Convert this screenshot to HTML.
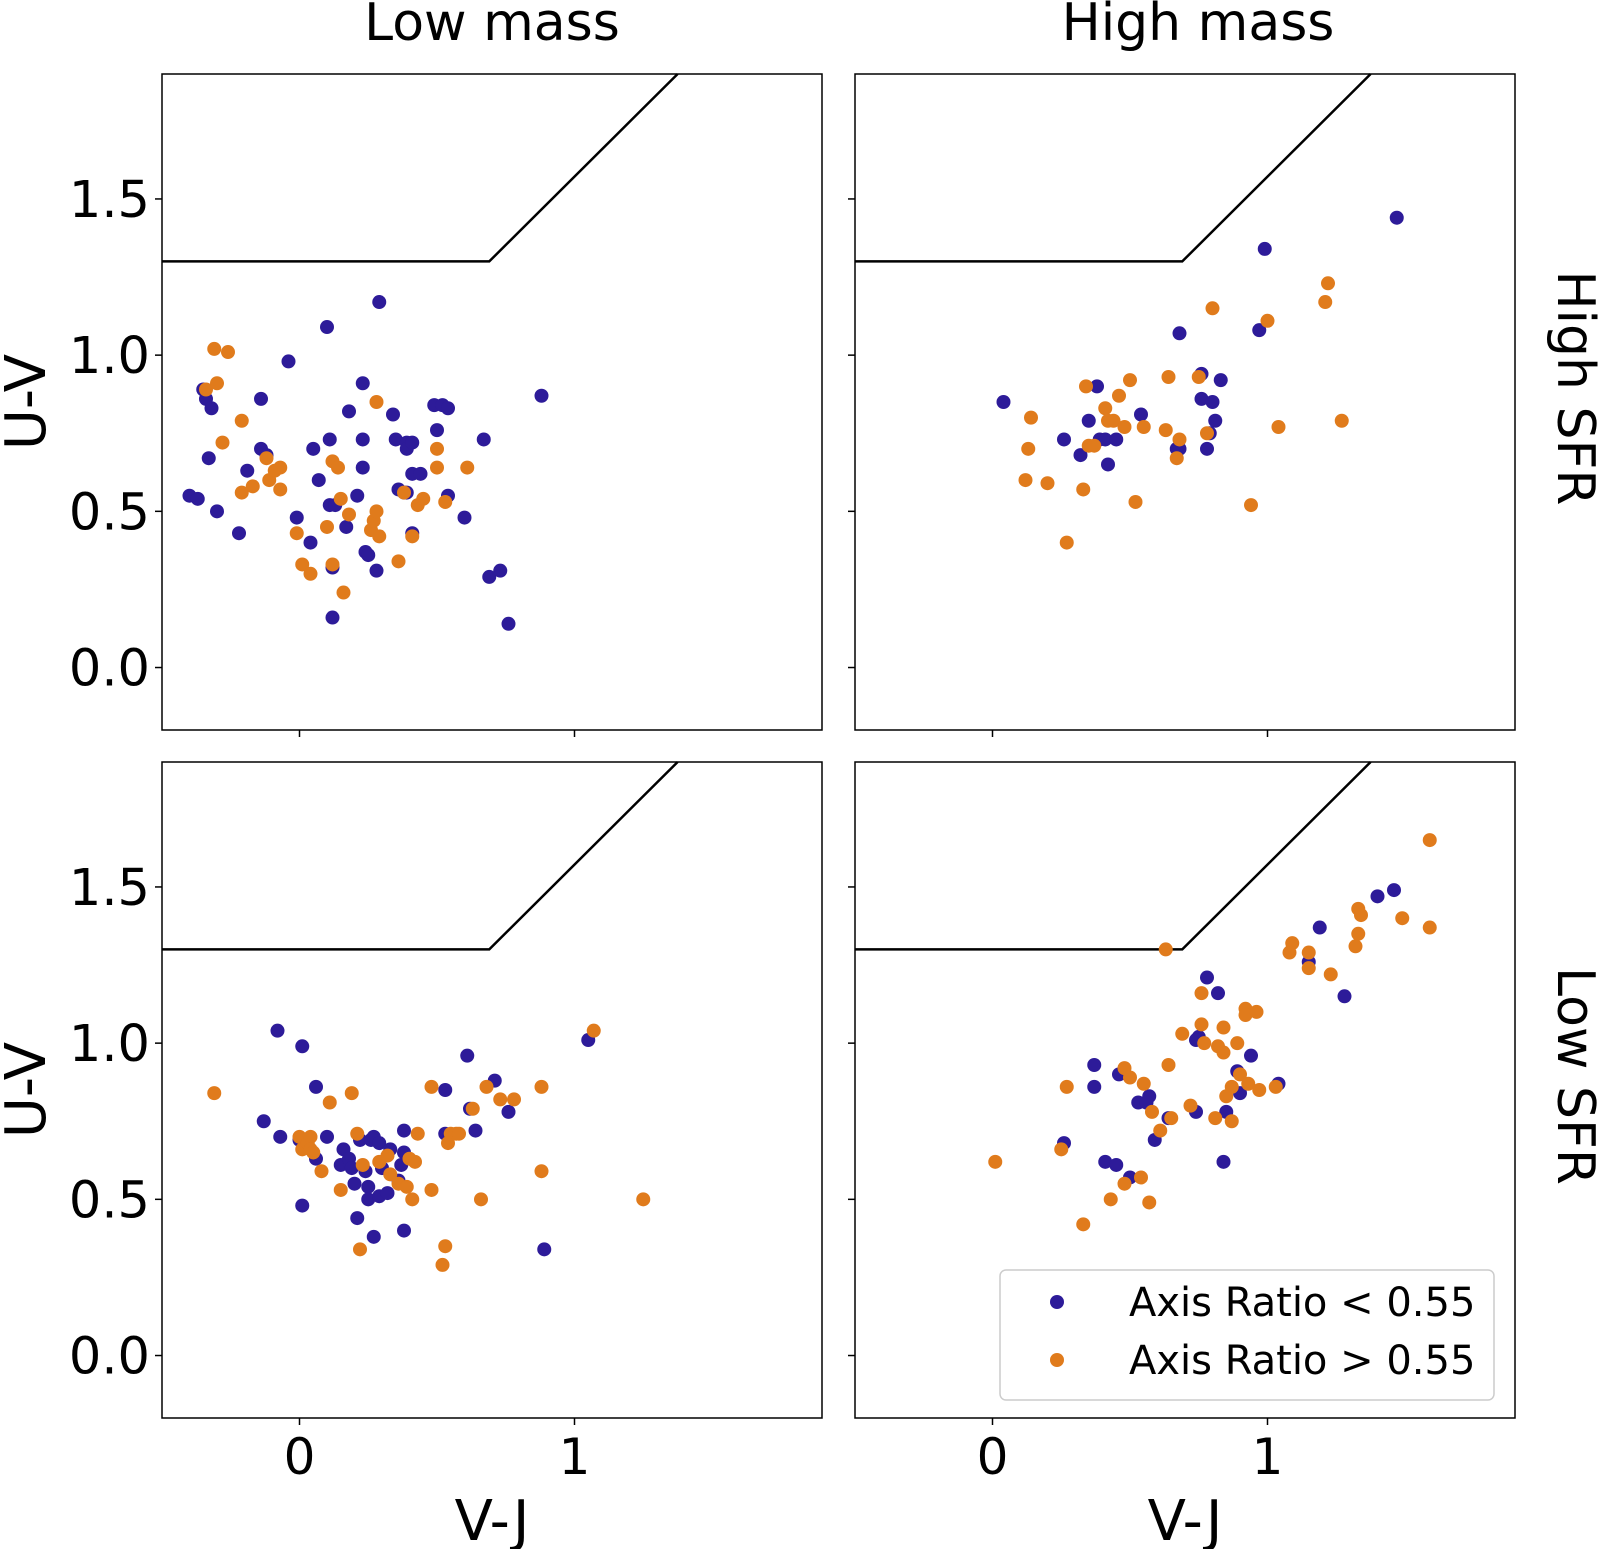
<!DOCTYPE html>
<html><head><meta charset="utf-8"><style>
html,body{margin:0;padding:0;background:#fff}
svg{display:block;font-family:"DejaVu Sans","Liberation Sans",sans-serif}
</style></head><body>
<svg id="chart" width="1600" height="1549" viewBox="0 0 1600 1549"></svg>
<script>
const blueTL=[[-0.40,0.55],[-0.37,0.54],[-0.35,0.89],[-0.34,0.86],[-0.32,0.83],[-0.33,0.67],[-0.30,0.50],[-0.22,0.43],[-0.19,0.63],[-0.14,0.70],[-0.14,0.86],[-0.12,0.68],[-0.04,0.98],[-0.01,0.48],[0.04,0.40],[0.05,0.70],[0.07,0.60],[0.10,1.09],[0.11,0.73],[0.11,0.52],[0.12,0.16],[0.12,0.32],[0.13,0.52],[0.17,0.45],[0.18,0.82],[0.21,0.55],[0.23,0.91],[0.23,0.73],[0.23,0.64],[0.24,0.37],[0.25,0.36],[0.28,0.31],[0.29,1.17],[0.34,0.81],[0.35,0.73],[0.36,0.57],[0.38,0.56],[0.39,0.72],[0.39,0.70],[0.41,0.72],[0.39,0.56],[0.41,0.43],[0.41,0.62],[0.44,0.62],[0.49,0.84],[0.50,0.76],[0.52,0.84],[0.54,0.83],[0.54,0.55],[0.60,0.48],[0.67,0.73],[0.69,0.29],[0.73,0.31],[0.76,0.14],[0.88,0.87]];
const orangeTL=[[-0.34,0.89],[-0.31,1.02],[-0.30,0.91],[-0.26,1.01],[-0.28,0.72],[-0.21,0.79],[-0.21,0.56],[-0.17,0.58],[-0.12,0.67],[-0.11,0.60],[-0.09,0.63],[-0.07,0.64],[-0.07,0.57],[-0.01,0.43],[0.01,0.33],[0.04,0.30],[0.10,0.45],[0.12,0.33],[0.12,0.66],[0.14,0.64],[0.15,0.54],[0.16,0.24],[0.18,0.49],[0.28,0.85],[0.26,0.44],[0.27,0.47],[0.28,0.50],[0.29,0.42],[0.36,0.34],[0.38,0.56],[0.41,0.42],[0.43,0.52],[0.45,0.54],[0.50,0.70],[0.53,0.53],[0.50,0.64],[0.61,0.64]];
const blueTR=[[0.04,0.85],[0.26,0.73],[0.32,0.68],[0.35,0.79],[0.38,0.90],[0.39,0.73],[0.41,0.73],[0.42,0.65],[0.45,0.73],[0.54,0.81],[0.67,0.70],[0.68,0.70],[0.76,0.94],[0.76,0.86],[0.78,0.70],[0.79,0.75],[0.80,0.85],[0.81,0.79],[0.83,0.92],[0.97,1.08],[0.99,1.34],[1.47,1.44],[0.68,1.07]];
const orangeTR=[[0.14,0.80],[0.12,0.60],[0.13,0.70],[0.20,0.59],[0.27,0.40],[0.33,0.57],[0.34,0.90],[0.35,0.71],[0.37,0.71],[0.41,0.83],[0.42,0.79],[0.44,0.79],[0.46,0.87],[0.48,0.77],[0.50,0.92],[0.52,0.53],[0.55,0.77],[0.63,0.76],[0.64,0.93],[0.67,0.67],[0.68,0.73],[0.75,0.93],[0.78,0.75],[0.80,1.15],[0.94,0.52],[1.00,1.11],[1.04,0.77],[1.21,1.17],[1.22,1.23],[1.27,0.79]];
const blueBL=[[-0.13,0.75],[-0.08,1.04],[0.01,0.99],[-0.07,0.70],[0.00,0.69],[0.01,0.48],[0.06,0.86],[0.06,0.63],[0.10,0.70],[0.15,0.61],[0.16,0.66],[0.18,0.63],[0.19,0.60],[0.20,0.55],[0.21,0.44],[0.22,0.69],[0.24,0.59],[0.25,0.54],[0.25,0.50],[0.26,0.69],[0.27,0.70],[0.29,0.51],[0.27,0.38],[0.29,0.68],[0.30,0.60],[0.32,0.52],[0.33,0.66],[0.36,0.56],[0.37,0.61],[0.38,0.65],[0.38,0.72],[0.38,0.40],[0.53,0.85],[0.53,0.71],[0.61,0.96],[0.62,0.79],[0.64,0.72],[0.71,0.88],[0.76,0.78],[0.89,0.34],[1.05,1.01]];
const orangeBL=[[-0.31,0.84],[0.00,0.70],[0.01,0.66],[0.03,0.68],[0.04,0.70],[0.04,0.66],[0.05,0.65],[0.08,0.59],[0.11,0.81],[0.15,0.53],[0.19,0.84],[0.21,0.71],[0.22,0.34],[0.23,0.61],[0.29,0.62],[0.32,0.64],[0.33,0.58],[0.36,0.55],[0.39,0.54],[0.40,0.63],[0.41,0.50],[0.43,0.71],[0.42,0.62],[0.48,0.86],[0.48,0.53],[0.52,0.29],[0.53,0.35],[0.54,0.68],[0.55,0.71],[0.57,0.71],[0.58,0.71],[0.63,0.79],[0.66,0.50],[0.68,0.86],[0.73,0.82],[0.78,0.82],[0.88,0.86],[0.88,0.59],[1.07,1.04],[1.25,0.50]];
const blueBR=[[0.37,0.93],[0.37,0.86],[0.46,0.90],[0.57,0.83],[0.53,0.81],[0.56,0.81],[0.64,0.76],[0.59,0.69],[0.26,0.68],[0.41,0.62],[0.45,0.61],[0.50,0.57],[0.75,1.02],[0.74,1.01],[0.78,1.21],[0.82,1.16],[0.94,0.96],[0.89,0.91],[0.90,0.84],[0.74,0.78],[0.85,0.78],[1.04,0.87],[0.84,0.62],[1.15,1.26],[1.19,1.37],[1.28,1.15],[1.40,1.47],[1.46,1.49]];
const orangeBR=[[0.01,0.62],[0.27,0.86],[0.25,0.66],[0.33,0.42],[0.43,0.50],[0.48,0.55],[0.54,0.57],[0.57,0.49],[0.48,0.92],[0.50,0.89],[0.55,0.87],[0.58,0.78],[0.61,0.72],[0.65,0.76],[0.64,0.93],[0.72,0.80],[0.81,0.76],[0.87,0.75],[0.69,1.03],[0.76,1.06],[0.77,1.00],[0.82,0.99],[0.84,0.97],[0.84,1.05],[0.89,1.00],[0.76,1.16],[0.92,1.11],[0.92,1.09],[0.96,1.10],[0.90,0.90],[0.87,0.86],[0.85,0.83],[0.93,0.87],[0.97,0.85],[1.03,0.86],[0.63,1.30],[1.09,1.32],[1.08,1.29],[1.15,1.29],[1.15,1.24],[1.23,1.22],[1.33,1.43],[1.34,1.41],[1.33,1.35],[1.32,1.31],[1.49,1.40],[1.59,1.37],[1.59,1.65]];
const xTicks=[0,1];
const xTickLabels=["0","1"];
const yTicks=[0,0.5,1.0,1.5];
const yTickLabels=["0.0","0.5","1.0","1.5"];
const colTitles=["Low mass","High mass"];
const rowTitles=["High SFR","Low SFR"];
const legendLabels=["Axis Ratio < 0.55","Axis Ratio > 0.55"];

const NS="http://www.w3.org/2000/svg";
const svg=document.getElementById('chart');
const BLUE="#2d1b99", ORANGE="#e07b1c";
const W=660,H=656, X0=[162,855], Y0=[74,762];
const XMIN=-0.5,XMAX=1.9,YMIN=-0.2,YMAX=1.9;
function mk(tag,attrs,parent){const e=document.createElementNS(NS,tag);for(const k in attrs)e.setAttribute(k,attrs[k]);(parent||svg).appendChild(e);return e;}
function sx(c,v){return X0[c]+(v-XMIN)/(XMAX-XMIN)*W;}
function sy(r,v){return Y0[r]+(YMAX-v)/(YMAX-YMIN)*H;}
const panels=[[0,0,blueTL,orangeTL,"top-left"],[0,1,blueTR,orangeTR,"top-right"],[1,0,blueBL,orangeBL,"bottom-left"],[1,1,blueBR,orangeBR,"bottom-right"]];
panels.forEach(([r,c,bl,or,nm])=>{
  const g=mk('g',{});
  
  
  const xc=0.69, ytop=YMAX, xtop=(ytop-0.69)/0.88;
  const ln=mk('polyline',{points:`${sx(c,XMIN)},${sy(r,1.3)} ${sx(c,xc)},${sy(r,1.3)} ${sx(c,xtop)},${sy(r,ytop)}`,fill:'none',stroke:'#000','stroke-width':2.5},g);
  
  
  [[bl,BLUE,'blue'],[or,ORANGE,'orange']].forEach(([arr,col,cn])=>{
    arr.forEach(p=>{
      const d=mk('circle',{cx:sx(c,p[0]),cy:sy(r,p[1]),r:7,fill:col},g);
      
      
    });
  });
  const fr=mk('rect',{x:X0[c],y:Y0[r],width:W,height:H,fill:'none',stroke:'#000','stroke-width':1.5},g);
  
  
  xTicks.forEach((t,i)=>{
    const x=sx(c,t), yb=Y0[r]+H;
    mk('line',{x1:x,y1:yb,x2:x,y2:yb+7,stroke:'#000','stroke-width':1.5},g);
    if(r===1){
      const tl=mk('text',{x:x,y:yb+56,'text-anchor':'middle','font-size':50},g);
      tl.textContent=xTickLabels[i];
      
      
    }
  });
  yTicks.forEach((t,i)=>{
    const y=sy(r,t), xl=X0[c];
    mk('line',{x1:xl,y1:y,x2:xl-7,y2:y,stroke:'#000','stroke-width':1.5},g);
    if(c===0){
      const tl=mk('text',{x:xl-12,y:y+18,'text-anchor':'end','font-size':51},g);
      tl.textContent=yTickLabels[i];
      
      
    }
  });
});
colTitles.forEach((t,c)=>{
  const e=mk('text',{x:X0[c]+W/2+(c===1?13:0),y:40,'text-anchor':'middle','font-size':52});
  e.textContent=t;
  
  
  const xl=mk('text',{x:X0[c]+W/2,y:1540,'text-anchor':'middle','font-size':56});
  xl.textContent="V-J";
  
  
});
rowTitles.forEach((t,r)=>{
  const cy=Y0[r]+H/2;
  const e=mk('text',{x:0,y:0,'text-anchor':'middle','font-size':52,transform:`translate(1558,${cy-14}) rotate(90)`});
  e.textContent=t;
  
  
  const yl=mk('text',{x:0,y:0,'text-anchor':'middle','font-size':56,transform:`translate(45,${cy}) rotate(-90)`});
  yl.textContent="U-V";
  
  
});
const lg=mk('g',{});


mk('rect',{x:1000,y:1270,width:494,height:130,rx:6,fill:'#fff','fill-opacity':0.8,stroke:'#ccc','stroke-width':1.5},lg);
legendLabels.forEach((t,i)=>{
  const y=1302+i*58;
  const d=mk('circle',{cx:1057,cy:y,r:7,fill:i===0?BLUE:ORANGE},lg);
  
  
  const tx=mk('text',{x:1129,y:y+14,'font-size':40},lg);
  tx.textContent=t;
  
  
});
</script>
</body></html>
